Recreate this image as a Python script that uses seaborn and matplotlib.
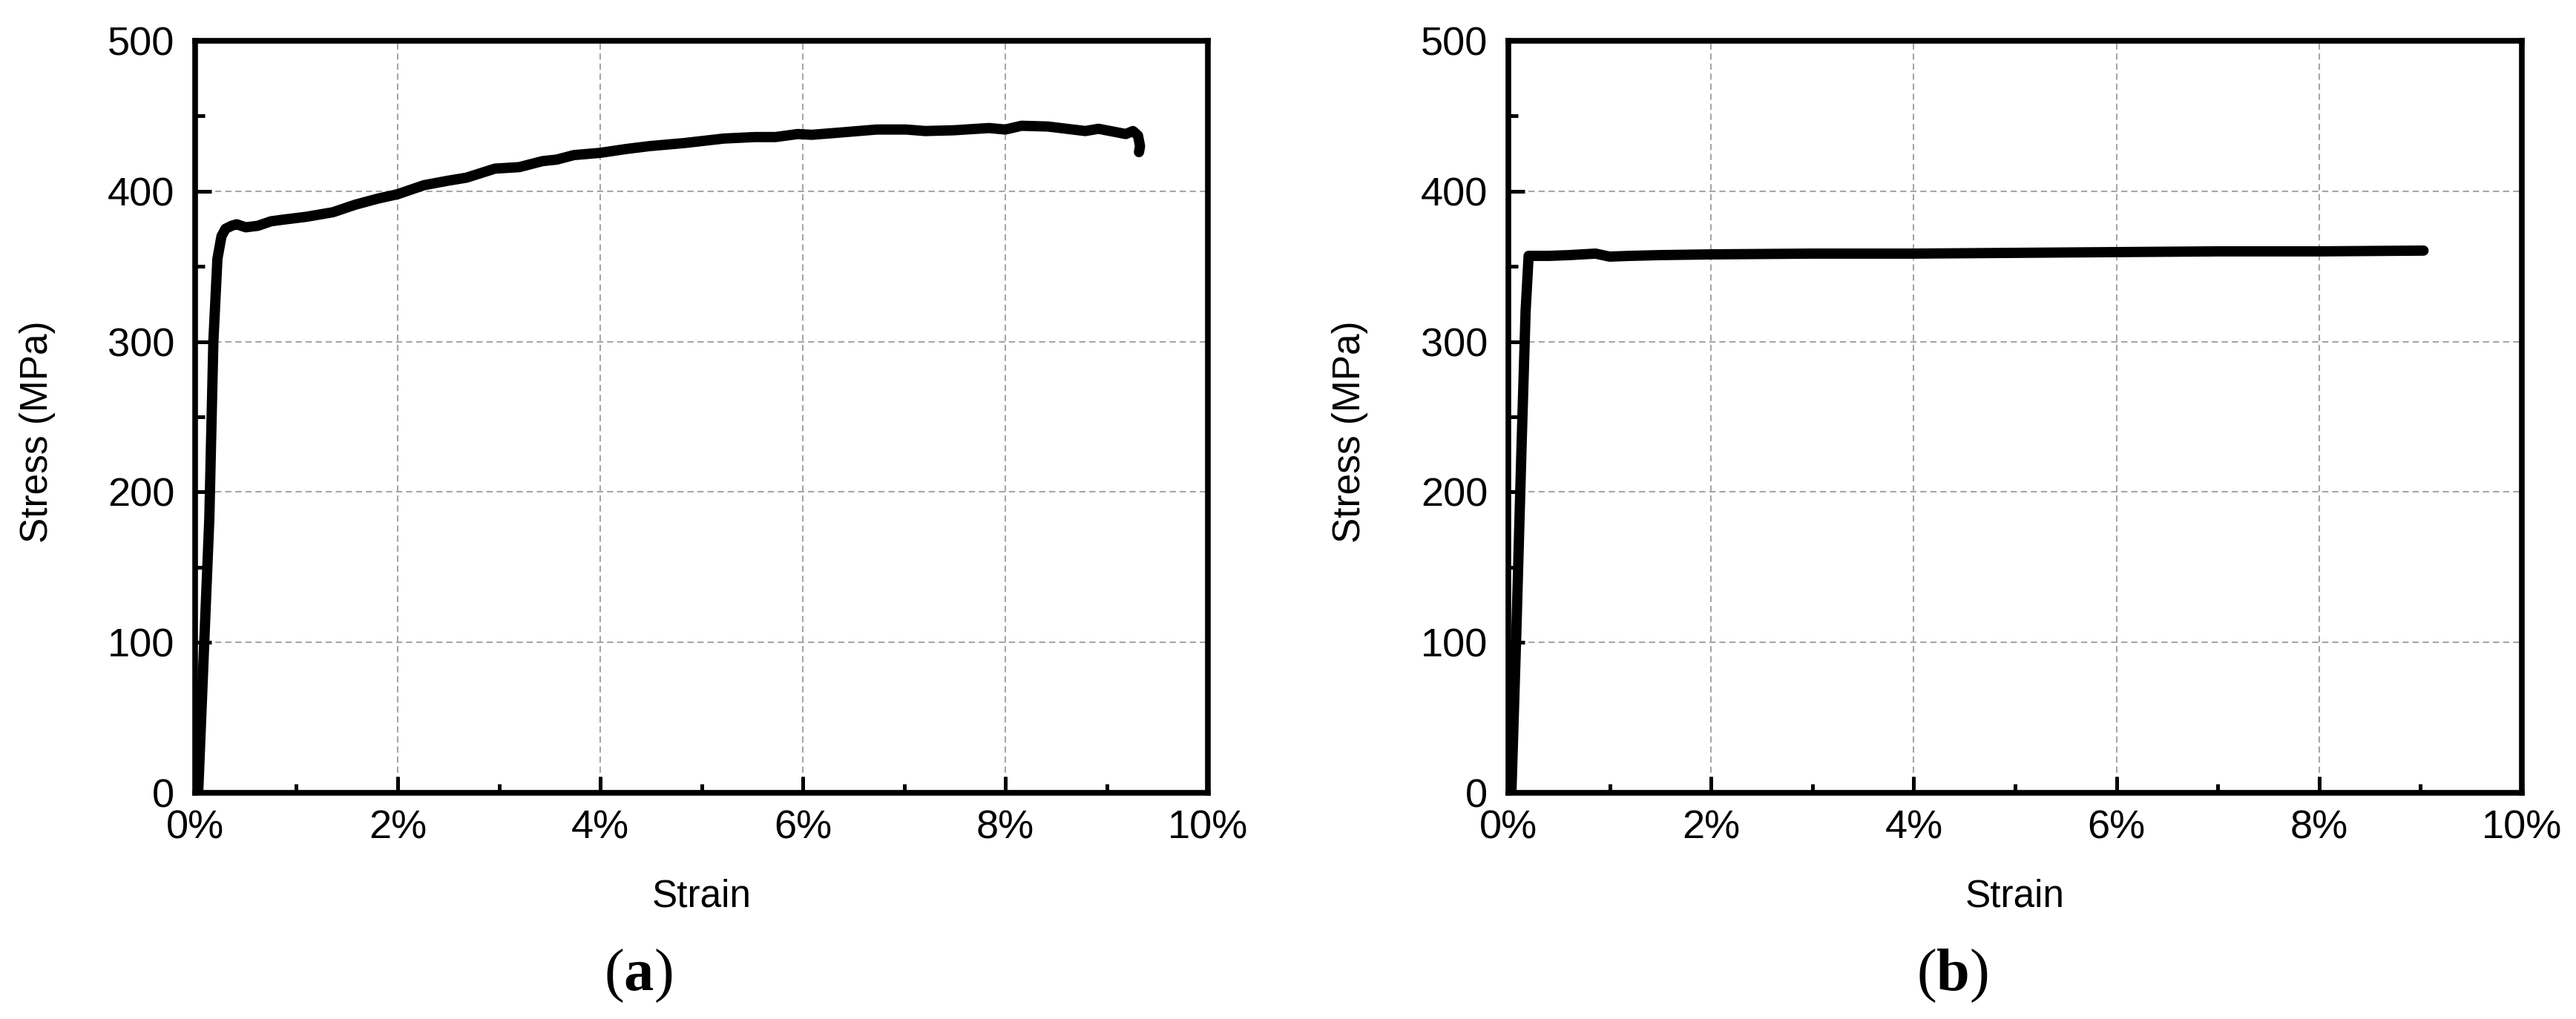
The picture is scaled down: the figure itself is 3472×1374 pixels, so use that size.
import matplotlib
matplotlib.use("Agg")
import matplotlib.pyplot as plt
import pandas as pd
import seaborn as sns
from matplotlib.ticker import MultipleLocator, PercentFormatter

# Kurva (a) - pretvorba / napetost
strain_a = [0.03, 0.09, 0.14, 0.18, 0.22, 0.26, 0.30, 0.36, 0.41, 0.50, 0.62, 0.75,
            0.86, 1.10, 1.36, 1.58, 1.80, 2.00, 2.26, 2.50, 2.68, 2.96, 3.20, 3.43,
            3.57, 3.74, 4.00, 4.25, 4.49, 4.83, 5.22, 5.53, 5.73, 5.95, 6.09, 6.37,
            6.73, 7.02, 7.21, 7.49, 7.84, 8.00, 8.16, 8.42, 8.79, 8.92, 9.19, 9.26,
            9.31, 9.33, 9.32]
stress_a = [0, 100, 182, 300, 355, 370, 375, 377, 378, 376, 377, 380,
            381, 383, 386, 391, 395, 398, 404, 407, 409, 415, 416, 420,
            421, 424, 425.5, 428, 430, 432, 435, 436, 436, 438, 437.5, 439,
            441, 441, 440, 440.5, 442, 441, 443.5, 443, 440, 441.5, 438, 440,
            437, 430, 426]

# Kurva (b)
strain_b = [0.03, 0.08, 0.13, 0.17, 0.20, 0.40, 0.60, 0.86, 1.00, 1.20, 1.50,
            2.00, 3.00, 4.00, 5.00, 6.00, 7.00, 8.00, 9.03]
stress_b = [0, 110, 230, 320, 357, 357, 357.5, 358.5, 356.5, 357, 357.5,
            358, 358.5, 358.5, 359, 359.5, 360, 360, 360.5]

panel_labels = ["a", "b"]

sns.set_style("white")
plt.rcParams["font.family"] = ["Liberation Sans", "DejaVu Sans"]
plt.rcParams["mathtext.fontset"] = "custom"
plt.rcParams["mathtext.rm"] = "Liberation Serif"
plt.rcParams["mathtext.bf"] = "Liberation Serif:bold"
for key in ["text.color", "axes.labelcolor", "xtick.color", "ytick.color", "axes.edgecolor"]:
    plt.rcParams[key] = "black"

fig = plt.figure(figsize=(34.73, 13.74), dpi=100)
ax_a = fig.add_axes([263 / 3473, 1 - 1069 / 1374, 1365 / 3473, 1014 / 1374])
ax_b = fig.add_axes([2033 / 3473, 1 - 1069 / 1374, 1366 / 3473, 1014 / 1374])

curves = [(strain_a, stress_a), (strain_b, stress_b)]

for ax, (sx, sy), lab in zip([ax_a, ax_b], curves, panel_labels):
    df = pd.DataFrame({"Strain": sx, "Stress": sy})
    sns.lineplot(data=df, x="Strain", y="Stress", ax=ax, sort=False, estimator=None,
                 color="black", linewidth=10, solid_capstyle="round",
                 solid_joinstyle="round", zorder=3)

    ax.set_xlim(0, 10)
    ax.set_ylim(0, 500)
    ax.xaxis.set_major_locator(MultipleLocator(2))
    ax.xaxis.set_minor_locator(MultipleLocator(1))
    ax.yaxis.set_major_locator(MultipleLocator(100))
    ax.yaxis.set_minor_locator(MultipleLocator(50))
    ax.xaxis.set_major_formatter(PercentFormatter(xmax=100, decimals=0))

    ax.grid(True, which="major", color="#a6a6a6", linestyle=(0, (4, 2.5)), linewidth=1.5)
    for sp in ax.spines.values():
        sp.set_linewidth(5.5)
        sp.set_color("black")
    ax.tick_params(which="major", direction="in", length=16, width=3.6,
                   labelsize=39, color="black", labelcolor="black", bottom=True, left=True)
    ax.tick_params(which="minor", direction="in", length=9, width=3.6,
                   color="black", bottom=True, left=True)
    ax.tick_params(axis="x", which="major", pad=16)
    ax.tick_params(axis="y", which="major", pad=20)

    ax.set_xlabel("Strain", fontsize=37, color="black")
    ax.set_ylabel("Stress (MPa)", fontsize=37, color="black")
    ax.xaxis.set_label_coords(0.5, -0.138)
    ax.xaxis.label.set_va("center")
    ax.yaxis.set_label_coords(-0.156, 0.48)
    ax.yaxis.label.set_va("center")

    ax.text(0.5 - 85 / 1365, -0.2436, r"($\mathbf{" + lab + r"}$)",
            transform=ax.transAxes, ha="center", va="center",
            fontsize=58, family="Liberation Serif", color="black")

fig.savefig("out.png", dpi=100, facecolor="white")
